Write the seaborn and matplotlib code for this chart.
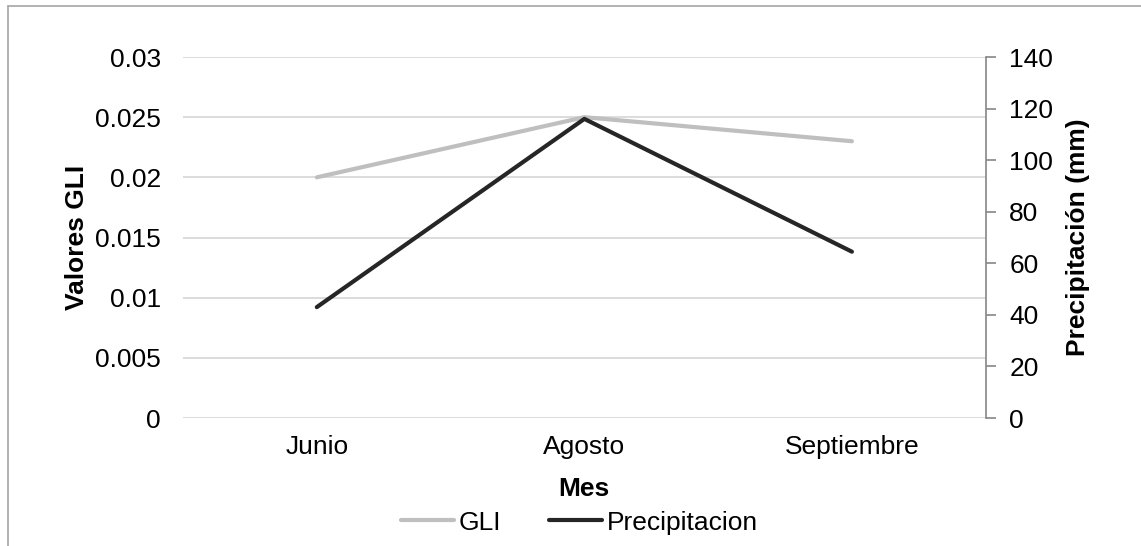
import matplotlib
matplotlib.use("Agg")
import matplotlib.pyplot as plt
from matplotlib.lines import Line2D
import seaborn as sns
import pandas as pd

meses = ["Junio", "Agosto", "Septiembre"]
gli = [0.020, 0.025, 0.023]
precipitacion = [43, 116, 64.5]

gli_ticks = [0, 0.005, 0.01, 0.015, 0.02, 0.025, 0.03]
gli_labels = ["0", "0.005", "0.01", "0.015", "0.02", "0.025", "0.03"]
prec_ticks = [0, 20, 40, 60, 80, 100, 120, 140]

df = pd.DataFrame({"Mes": meses, "GLI": gli, "Precipitacion": precipitacion})

sns.set_theme(style="white")
plt.rcParams["font.family"] = ["Liberation Sans", "DejaVu Sans"]
plt.rcParams["text.color"] = "black"
plt.rcParams["axes.labelcolor"] = "black"

FS = 19
fig = plt.figure(figsize=(11.41, 5.46), dpi=100)
ax = fig.add_axes([0.1604, 0.2344, 0.8639 - 0.1604, 0.8956 - 0.2344])
ax2 = ax.twinx()

sns.lineplot(data=df, x="Mes", y="GLI", ax=ax, color="#BFBFBF", linewidth=3.0,
             sort=False, zorder=3)
sns.lineplot(data=df, x="Mes", y="Precipitacion", ax=ax2, color="#262626",
             linewidth=3.0, sort=False, zorder=3)

ax.set_xlim(-0.5, 2.5)
ax.set_ylim(0, 0.03)
ax.set_yticks(gli_ticks)
ax.set_yticklabels(gli_labels)
ax2.set_ylim(0, 140)
ax2.set_yticks(prec_ticks)

ax.yaxis.grid(True, color="#D9D9D9", linewidth=1.3)
ax.set_axisbelow(True)

for a in (ax, ax2):
    for s in a.spines.values():
        s.set_visible(False)
ax2.spines["right"].set_visible(True)
ax2.spines["right"].set_color("#868686")
ax2.spines["right"].set_linewidth(1.2)

ax.tick_params(axis="y", length=0, pad=16, labelsize=FS, colors="black")
ax.tick_params(axis="x", length=0, pad=12, labelsize=FS, colors="black")
ax2.tick_params(axis="y", direction="out", length=7, width=1.2, color="#868686",
                pad=10, labelsize=FS, labelcolor="black", right=True)

ax.set_xlabel("Mes", fontsize=FS, fontweight="bold", labelpad=13, color="black")
ax.set_ylabel("Valores GLI", fontsize=FS, fontweight="bold", labelpad=4, color="black")
ax2.set_ylabel("Precipitación (mm)", fontsize=FS, fontweight="bold", labelpad=9,
               color="black")

handles = [Line2D([], [], color="#BFBFBF", linewidth=3.0),
           Line2D([], [], color="#262626", linewidth=3.0)]
leg = fig.legend(handles, ["GLI", "Precipitacion"], loc="center",
                 bbox_to_anchor=(0.508, 0.043), ncol=2, frameon=False, fontsize=FS,
                 handlelength=2.0, handletextpad=0.2, columnspacing=1.8)
for t in leg.get_texts():
    t.set_color("black")

# outer chart frame (left and top edges)
fig.add_artist(Line2D([8 / 1141, 8 / 1141], [0, 1 - 6 / 546],
                      transform=fig.transFigure, color="#A6A6A6", linewidth=1.2))
fig.add_artist(Line2D([8 / 1141, 1], [1 - 6 / 546, 1 - 6 / 546],
                      transform=fig.transFigure, color="#A6A6A6", linewidth=1.2))

fig.savefig("out.png", dpi=100, facecolor="white")
